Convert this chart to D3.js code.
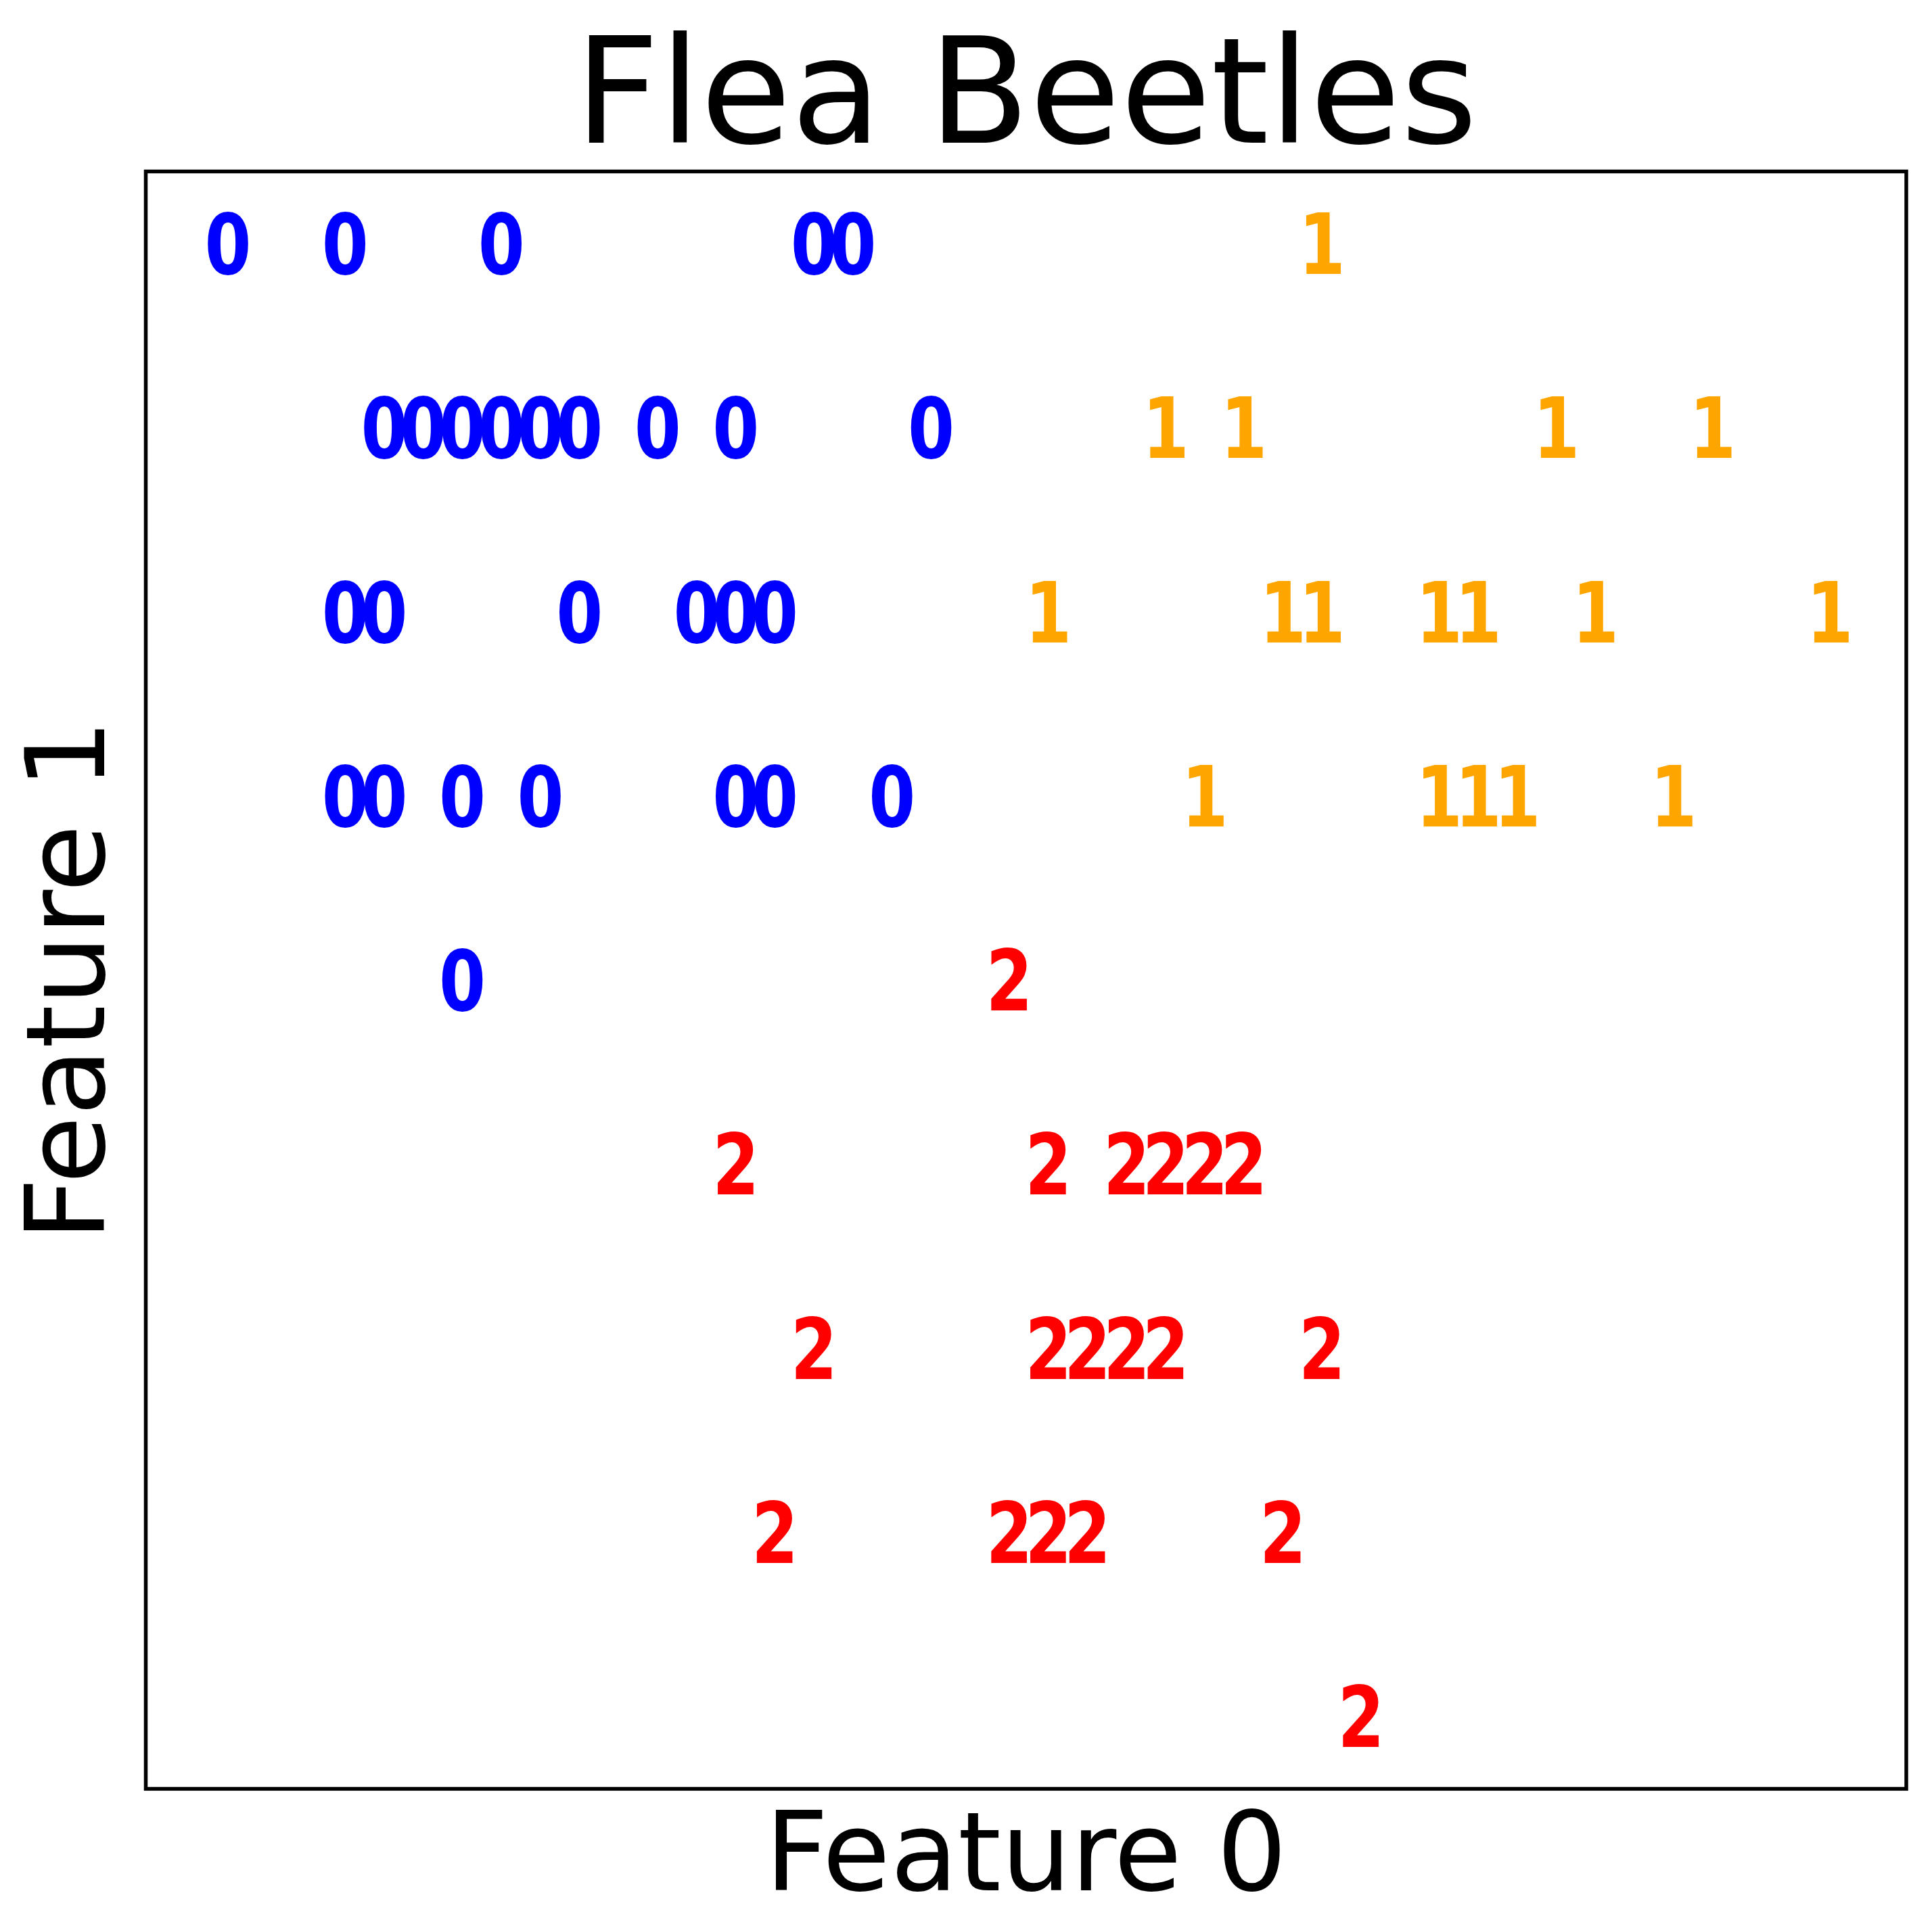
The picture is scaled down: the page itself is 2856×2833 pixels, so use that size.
<!DOCTYPE html>
<html>
<head>
<meta charset="utf-8">
<script src="https://cdn.jsdelivr.net/npm/d3@7"></script>
<style>
  body { margin: 0; background: #fff; }
  text { font-family: "DejaVu Sans", sans-serif; }
</style>
</head>
<body>
<div id="chart"></div>
<script>
// class of each sample (0, 1, 2) and its two (binned) feature values
var feature0 = [
  0, 3, 7, 15, 16, 28,
  4, 5, 6, 7, 8, 9, 11, 13, 18, 24, 26, 34, 38,
  3, 4, 9, 12, 13, 14, 21, 27, 28, 31, 32, 35, 41,
  3, 4, 6, 8, 13, 14, 17, 25, 31, 32, 33, 37,
  6, 20,
  13, 21, 23, 24, 25, 26,
  15, 21, 22, 23, 24, 28,
  14, 20, 21, 22, 27,
  29
];
var feature1 = [
  8, 8, 8, 8, 8, 8,
  7, 7, 7, 7, 7, 7, 7, 7, 7, 7, 7, 7, 7,
  6, 6, 6, 6, 6, 6, 6, 6, 6, 6, 6, 6, 6,
  5, 5, 5, 5, 5, 5, 5, 5, 5, 5, 5, 5,
  4, 4,
  3, 3, 3, 3, 3, 3,
  2, 2, 2, 2, 2, 2,
  1, 1, 1, 1, 1,
  0
];
var target = [
  0, 0, 0, 0, 0, 1,
  0, 0, 0, 0, 0, 0, 0, 0, 0, 1, 1, 1, 1,
  0, 0, 0, 0, 0, 0, 1, 1, 1, 1, 1, 1, 1,
  0, 0, 0, 0, 0, 0, 0, 1, 1, 1, 1, 1,
  0, 2,
  2, 2, 2, 2, 2, 2,
  2, 2, 2, 2, 2, 2,
  2, 2, 2, 2, 2,
  2
];
var classColors = ["blue", "orange", "red"];

var width = 2856, height = 2833;
var frame = {left: 215.5, top: 253.5, right: 2818, bottom: 2645};

var svg = d3.select("#chart").append("svg")
  .attr("width", width)
  .attr("height", height)
  .style("background", "#fff");

// glyph centres horizontally, baselines vertically
var x = d3.scaleLinear().domain([0, 41]).range([337, 2705]);
var y = d3.scaleLinear().domain([0, 8]).range([2583, 405]);

var points = feature0.map(function(d, i) {
  return {f0: d, f1: feature1[i], c: target[i]};
});

// the digits in the original are narrow, so squeeze them a bit
svg.selectAll("text.pt")
  .data(points)
  .enter().append("text")
  .attr("class", "pt")
  .attr("transform", function(d) {
    return "translate(" + x(d.f0) + "," + y(d.f1) + ") scale(0.8,1)";
  })
  .attr("text-anchor", "middle")
  .style("font-size", "124px")
  .style("font-weight", "bold")
  .style("fill", function(d) { return classColors[d.c]; })
  .text(function(d) { return String(d.c); });

svg.append("rect")
  .attr("x", frame.left)
  .attr("y", frame.top)
  .attr("width", frame.right - frame.left)
  .attr("height", frame.bottom - frame.top)
  .style("fill", "none")
  .style("stroke", "#000")
  .style("stroke-width", 5.5);

svg.append("text")
  .attr("x", (frame.left + frame.right) / 2)
  .attr("y", 211)
  .attr("text-anchor", "middle")
  .style("font-size", "218px")
  .text("Flea Beetles");

svg.append("text")
  .attr("x", (frame.left + frame.right) / 2)
  .attr("y", 2795)
  .attr("text-anchor", "middle")
  .style("font-size", "163px")
  .text("Feature 0");

svg.append("text")
  .attr("transform", "translate(154," + ((frame.top + frame.bottom) / 2) + ") rotate(-90)")
  .attr("text-anchor", "middle")
  .style("font-size", "163px")
  .text("Feature 1");
</script>
</body>
</html>
